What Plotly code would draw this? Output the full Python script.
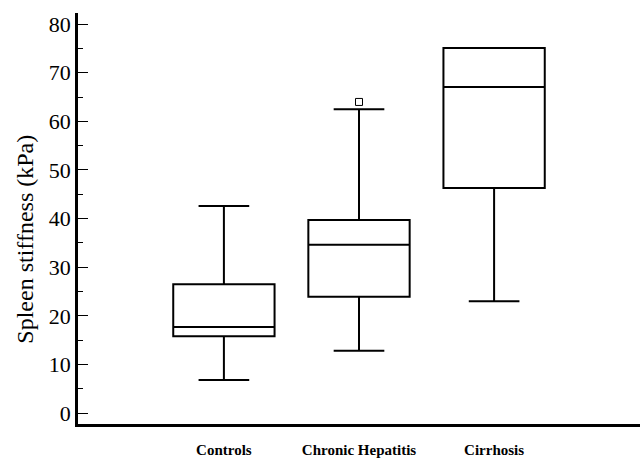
import plotly.graph_objects as go

groups = ["Controls", "Chronic Hepatitis", "Cirrhosis"]
lower_whisker = [6.8, 12.8, 23.0]
q1 = [15.8, 23.9, 46.3]
median = [17.7, 34.6, 67.1]
q3 = [26.5, 39.7, 75.1]
upper_whisker = [42.6, 62.5, 75.1]
outlier_group = ["Chronic Hepatitis"]
outlier_value = [64.0]
y_ticks = [0, 10, 20, 30, 40, 50, 60, 70, 80]

xpos = {g: i for i, g in enumerate(groups)}

fig = go.Figure()
fig.add_trace(go.Box(
    x=[xpos[g] for g in groups],
    q1=q1, median=median, q3=q3,
    lowerfence=lower_whisker, upperfence=upper_whisker,
    width=0.75, whiskerwidth=0.5,
    fillcolor="white",
    line=dict(color="black", width=2),
    boxpoints=False, hoverinfo="skip", showlegend=False,
))
fig.add_trace(go.Scatter(
    x=[xpos[g] for g in outlier_group], y=outlier_value,
    mode="markers",
    marker=dict(symbol="square-open", size=7, color="black", line=dict(width=1)),
    showlegend=False, hoverinfo="skip",
))

fig.add_annotation(
    text="Spleen stiffness (kPa)", textangle=-90,
    xref="paper", yref="paper", x=-0.095, y=0.45,
    xanchor="center", yanchor="middle", showarrow=False,
    font=dict(size=24),
)

fig.update_layout(
    width=640, height=459,
    margin=dict(l=78, r=0, t=13, b=35),
    plot_bgcolor="white", paper_bgcolor="white",
    font=dict(family="Liberation Serif, Times New Roman, serif", color="black"),
    xaxis=dict(
        range=[-1.08, 3.08],
        tickvals=list(range(len(groups))),
        ticktext=["<b>%s</b>" % g for g in groups],
        tickfont=dict(size=15),
        showgrid=False, zeroline=False,
        showline=True, linecolor="black", linewidth=2.5,
        ticks="", ticklabelstandoff=10, automargin=False,
    ),
    yaxis=dict(
        range=[-2.26, 82.3],
        tickvals=y_ticks,
        tickfont=dict(size=22),
        showgrid=False, zeroline=False,
        showline=True, linecolor="black", linewidth=2.5,
        ticks="inside", ticklen=10, tickwidth=1, tickcolor="black",
        minor=dict(dtick=5, ticks="inside", ticklen=5, tickwidth=1, tickcolor="black", tick0=0),
        automargin=False,
    ),
)
fig.write_html("out.html")
